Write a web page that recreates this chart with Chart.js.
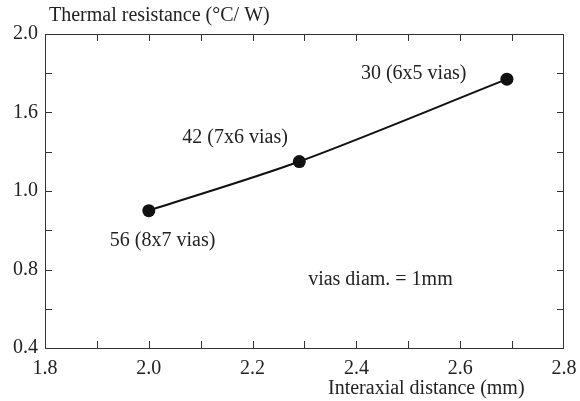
<!DOCTYPE html>
<html>
<head>
<meta charset="utf-8">
<script src="https://cdn.jsdelivr.net/npm/chart.js@4/dist/chart.umd.min.js"></script>
<style>
  html, body { margin: 0; padding: 0; background: #fff; }
  #wrap { width: 580px; height: 401px; position: relative; }
</style>
</head>
<body>
<div id="wrap"><canvas id="chart"></canvas></div>
<script>
// datos
var distances = [2.0, 2.29, 2.69];
var resistances = [1.10, 1.35, 1.77];
var pointLabels = ['56 (8x7 vias)', '42 (7x6 vias)', '30 (6x5 vias)'];
var xTickLabels = ['1.8', '2.0', '2.2', '2.4', '2.6', '2.8'];
var yTickLabels = ['0.4', '0.8', '1.0', '1.6', '2.0'];

var FONT = '"Liberation Serif", "Times New Roman", serif';
var TXT = '#222';

// marco y marcas hacia dentro, mas los textos
var framePlugin = {
    id: 'frame',
    afterDraw: function (chart) {
        var ctx = chart.ctx;
        var a = chart.chartArea;
        var xs = chart.scales.x, ys = chart.scales.y;
        var len = 7;
        ctx.save();
        ctx.strokeStyle = '#333';
        ctx.lineWidth = 1;
        ctx.strokeRect(a.left + 0.5, a.top + 0.5, a.right - a.left - 1, a.bottom - a.top);
        ctx.beginPath();
        xs.ticks.forEach(function (t) {
            var px = Math.round(xs.getPixelForValue(t.value)) + 0.5;
            if (px <= a.left + 1 || px >= a.right - 1) return;
            ctx.moveTo(px, a.bottom); ctx.lineTo(px, a.bottom - len);
            ctx.moveTo(px, a.top); ctx.lineTo(px, a.top + len);
        });
        ys.ticks.forEach(function (t) {
            var py = Math.round(ys.getPixelForValue(t.value)) + 0.5;
            if (py <= a.top + 1 || py >= a.bottom - 1) return;
            ctx.moveTo(a.left, py); ctx.lineTo(a.left + len, py);
            ctx.moveTo(a.right, py); ctx.lineTo(a.right - len, py);
        });
        ctx.stroke();

        ctx.fillStyle = TXT;
        ctx.font = '20px ' + FONT;
        ctx.textBaseline = 'middle';
        ctx.textAlign = 'left';
        ctx.fillText('Thermal resistance (\u00B0C/ W)', 49, 16);
        ctx.fillText('Interaxial distance (mm)', 328, 389);

        // etiquetas de los puntos
        var offs = [[-39, 30], [-117, -24], [-146, -5]];
        distances.forEach(function (d, i) {
            var px = xs.getPixelForValue(d);
            var py = ys.getPixelForValue(resistances[i]);
            ctx.fillText(pointLabels[i], px + offs[i][0], py + offs[i][1]);
        });
        ctx.fillText('vias diam. = 1mm', xs.getPixelForValue(2.307), ys.getPixelForValue(0.746));
        ctx.restore();
    }
};

var ctx = document.getElementById('chart').getContext('2d');
var myChart = new Chart(ctx, {
    type: 'line',
    data: {
        datasets: [{
            data: distances.map(function (d, i) { return { x: d, y: resistances[i] }; }),
            borderColor: '#111',
            backgroundColor: '#111',
            borderWidth: 2,
            pointRadius: 6.5,
            pointHoverRadius: 6.5,
            pointBackgroundColor: '#111',
            pointBorderWidth: 0,
            tension: 0.3,
            fill: false
        }]
    },
    options: {
        responsive: true,
        maintainAspectRatio: false,
        animation: false,
        layout: { padding: { top: 34, right: 16, left: 0, bottom: 0 } },
        plugins: { legend: { display: false }, tooltip: { enabled: false } },
        scales: {
            x: {
                type: 'linear',
                min: 1.8, max: 2.8,
                afterFit: function (s) {
                    s.height = 53;
                    s.paddingLeft = 0;
                    s.paddingRight = 0;
                },
                grid: { display: false, drawTicks: false },
                border: { display: false },
                ticks: {
                    stepSize: 0.1,
                    autoSkip: false,
                    maxRotation: 0,
                    padding: 9,
                    color: TXT,
                    font: { family: FONT, size: 20 },
                    callback: function (v, i) {
                        return i % 2 === 0 ? xTickLabels[i / 2] : '';
                    }
                }
            },
            y: {
                min: 0.4, max: 2.0,
                afterFit: function (s) {
                    s.width = 45;
                    s.paddingTop = 0;
                    s.paddingBottom = 0;
                },
                grid: { display: false, drawTicks: false },
                border: { display: false },
                ticks: {
                    stepSize: 0.2,
                    autoSkip: false,
                    padding: 7,
                    color: TXT,
                    font: { family: FONT, size: 20 },
                    callback: function (v, i) {
                        return i % 2 === 0 ? yTickLabels[i / 2] : '';
                    }
                }
            }
        }
    },
    plugins: [framePlugin]
});
</script>
</body>
</html>
